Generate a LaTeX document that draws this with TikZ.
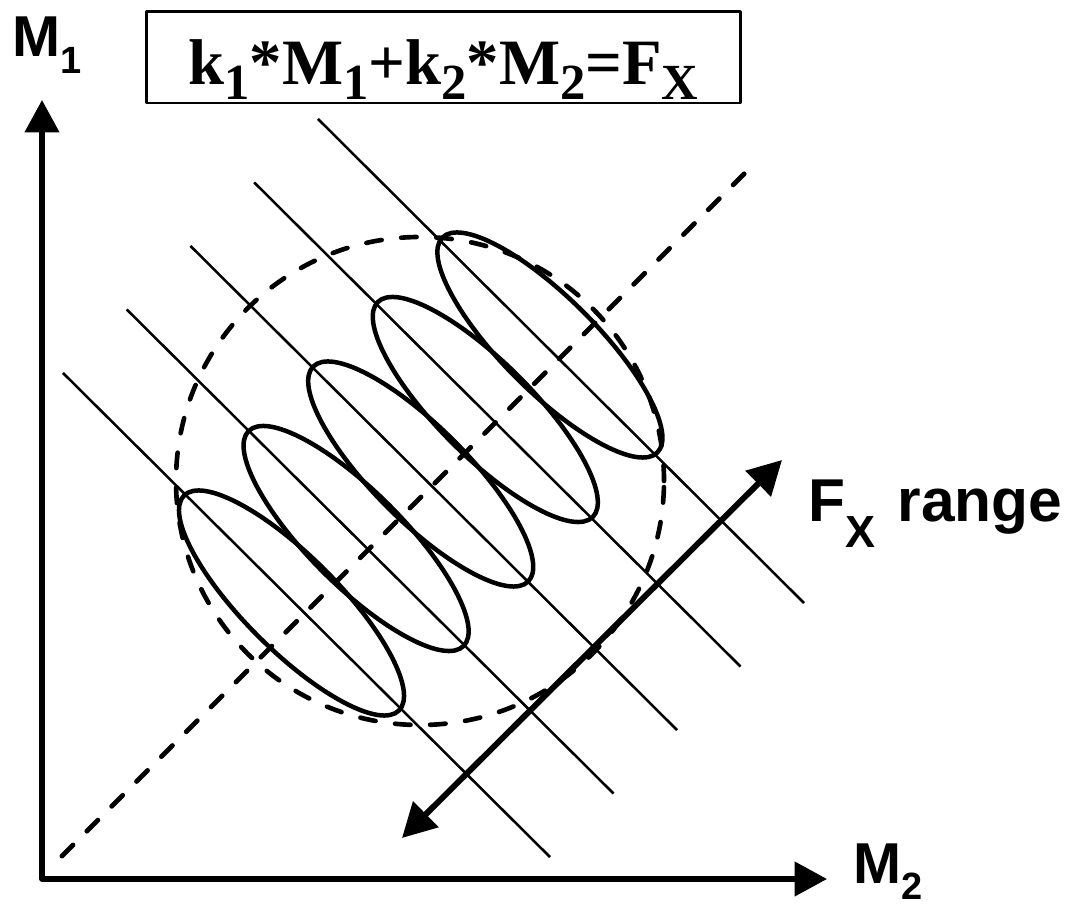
\documentclass[tikz,border=0pt]{standalone}
\usepackage{fontspec}
\setmainfont{Liberation Serif}
\setsansfont{Liberation Sans}
\usetikzlibrary{arrows.meta}

\newcommand{\eqidx}[1]{{\fontsize{36}{36}\selectfont\raisebox{-11pt}{#1}}}
\newcommand{\axidx}[1]{{\fontsize{27}{27}\selectfont\raisebox{-12pt}{#1}}}
\newcommand{\fxidx}[1]{{\fontsize{32}{32}\selectfont\raisebox{-18pt}{#1}}}

\begin{document}
\begin{tikzpicture}[x=0.025cm, y=0.025cm, line join=round]
  % Define styles
  \tikzstyle{axis} = [line width=3.6pt, {Triangle[length=23pt, width=24pt]}-{Triangle[length=23pt, width=24pt]}]
  \tikzstyle{guideline} = [line width=3.5pt, dash pattern=on 11pt off 14pt, line cap=round]
  \tikzstyle{isoline} = [line width=1.8pt]
  \tikzstyle{blob} = [line width=3.2pt]
  \tikzstyle{rangearrow} = [line width=4.2pt, {Triangle[length=24pt, width=25pt]}-{Triangle[length=24pt, width=25pt]}]
  \tikzstyle{axislabel} = [font=\sffamily\bfseries\fontsize{41}{41}\selectfont, inner sep=0pt, anchor=base west]
  \tikzstyle{formulabox} = [draw, line width=2.1pt, minimum width=14.83cm, minimum height=2.275cm, inner sep=0pt, font=\bfseries\fontsize{46}{46}\selectfont]

  \useasboundingbox (0,0) rectangle (1070,906);

  % Axes
  \coordinate (origin) at (42,27);
  \coordinate (m1tip) at (42,806);
  \coordinate (m2tip) at (827,27);
  \draw[axis] (m1tip) -- (origin) -- (m2tip);
  \node[axislabel] (m1) at (12,849) {M\axidx{1}};
  \node[axislabel] (m2) at (853,23) {M\axidx{2}};

  % Formula box
  \node[formulabox] (formula) at (443.5,848.5) {\raisebox{-19pt}[0pt][0pt]{k\eqidx{1}*M\eqidx{1}+k\eqidx{2}*M\eqidx{2}=F\eqidx{X}}};

  % Dashed diagonal and spread circle
  \coordinate (diaglow) at (62,50);
  \coordinate (diaghigh) at (755,743);
  \draw[guideline] (diaglow) -- (diaghigh);
  \coordinate (spread) at (420,425);
  \draw[guideline, line width=3.3pt] (spread) circle (244);

  % Lines of constant F_x
  \foreach \i in {0,...,4} {
    \coordinate (isostart\i) at ({63+63.75*\i}, {533+63.5*\i});
    \coordinate (isoend\i) at ({550+63.5*\i}, {49+63.5*\i});
    \draw[isoline] (isostart\i) -- (isoend\i);
  }

  % Ellipses along the lines
  \foreach \i in {0,...,4} {
    \coordinate (blob\i) at ({291.5+64.6*\i}, {303+64.5*\i});
    \draw[blob, rotate around={-45:(blob\i)}] (blob\i) ellipse (152 and 47);
  }

  % F_x range arrow
  \coordinate (fxlow) at (402,68);
  \coordinate (fxhigh) at (782,446);
  \draw[rangearrow] (fxlow) -- (fxhigh);
  \node[axislabel, font=\sffamily\bfseries\fontsize{43}{43}\selectfont] (fxrange) at (808,384) {F\fxidx{X}\hspace{4pt} range};
\end{tikzpicture}
\end{document}
